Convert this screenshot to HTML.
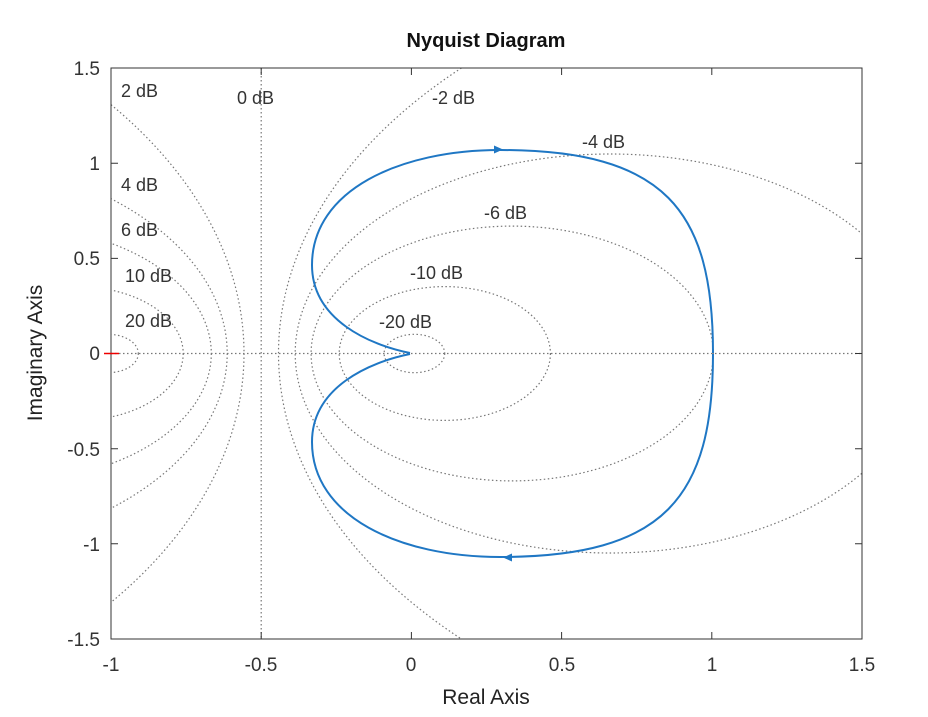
<!DOCTYPE html>
<html><head><meta charset="utf-8"><style>
html,body{margin:0;padding:0;background:#fff;overflow:hidden;width:928px;height:717px;}
svg{display:block;}
text{font-family:"Liberation Sans",sans-serif;}
</style></head><body>
<svg width="928" height="717" viewBox="0 0 928 717" xmlns="http://www.w3.org/2000/svg">
<rect width="928" height="717" fill="#fff"/>
<defs><clipPath id="c"><rect x="111" y="68" width="751" height="571"/></clipPath></defs>
<g clip-path="url(#c)" fill="none" stroke="#777" stroke-width="1.2" stroke-dasharray="1.5,2.5">
<ellipse cx="-402.6" cy="353.5" rx="646.6" ry="409.6"/>
<ellipse cx="-87.7" cy="353.5" rx="314.9" ry="199.5"/>
<ellipse cx="10.2" cy="353.5" rx="201.1" ry="127.4"/>
<ellipse cx="77.6" cy="353.5" rx="105.6" ry="66.9"/>
<ellipse cx="108" cy="353.5" rx="30.3" ry="19.2"/>
<ellipse cx="925.1" cy="353.5" rx="646.6" ry="409.6"/>
<ellipse cx="610.1" cy="353.5" rx="314.9" ry="199.5"/>
<ellipse cx="512.2" cy="353.5" rx="201.1" ry="127.4"/>
<ellipse cx="444.8" cy="353.5" rx="105.6" ry="66.9"/>
<ellipse cx="414.4" cy="353.5" rx="30.3" ry="19.2"/>
<line x1="261.2" y1="68" x2="261.2" y2="639"/>
<line x1="111" y1="353.5" x2="862" y2="353.5"/>
</g>
<rect x="111" y="68" width="751" height="571" fill="none" stroke="#333" stroke-width="1"/>
<g stroke="#333" stroke-width="1">
<path d="M261.2,639v-7M411.4,639v-7M561.6,639v-7M711.8,639v-7M261.2,68v7M411.4,68v7M561.6,68v7M711.8,68v7"/>
<path d="M111,163.2h7M111,258.4h7M111,353.5h7M111,448.7h7M111,543.8h7M862,163.2h-7M862,258.4h-7M862,353.5h-7M862,448.7h-7M862,543.8h-7"/>
</g>
<line x1="104" y1="353.5" x2="119" y2="353.5" stroke="#e00" stroke-width="1.5"/>
<g fill="none" stroke="#1f77c4" stroke-width="2">
<path d="M713,353 C713,210 665,150 500,150 C400,150 312,190 312,265 C312,320 370,345 410,353"/>
<path d="M713,354 C713,497 665,557 500,557 C400,557 312,517 312,442 C312,387 370,362 410,354"/>
</g>
<polygon points="503,149.5 494,145.5 494,153.5" fill="#1f77c4"/>
<polygon points="503,557.5 512,553.5 512,561.5" fill="#1f77c4"/>
<g font-size="18" fill="#333">
<text x="121" y="97">2 dB</text>
<text x="237" y="104">0 dB</text>
<text x="432" y="104">-2 dB</text>
<text x="582" y="148">-4 dB</text>
<text x="121" y="191">4 dB</text>
<text x="121" y="236">6 dB</text>
<text x="484" y="219">-6 dB</text>
<text x="125" y="282">10 dB</text>
<text x="410" y="279">-10 dB</text>
<text x="125" y="327">20 dB</text>
<text x="379" y="328">-20 dB</text>
</g>
<g font-size="19" fill="#333" text-anchor="middle">
<text x="111" y="671">-1</text>
<text x="261" y="671">-0.5</text>
<text x="411" y="671">0</text>
<text x="562" y="671">0.5</text>
<text x="712" y="671">1</text>
<text x="862" y="671">1.5</text>
</g>
<g font-size="19" fill="#333" text-anchor="end">
<text x="100" y="75">1.5</text>
<text x="100" y="170">1</text>
<text x="100" y="265">0.5</text>
<text x="100" y="360">0</text>
<text x="100" y="456">-0.5</text>
<text x="100" y="551">-1</text>
<text x="100" y="646">-1.5</text>
</g>
<text x="486" y="47" font-size="20" font-weight="bold" text-anchor="middle" fill="#111">Nyquist Diagram</text>
<text x="486" y="704" font-size="21" text-anchor="middle" fill="#222">Real Axis</text>
<text transform="translate(42,353) rotate(-90)" font-size="21" text-anchor="middle" fill="#222">Imaginary Axis</text>
</svg>
</body></html>
